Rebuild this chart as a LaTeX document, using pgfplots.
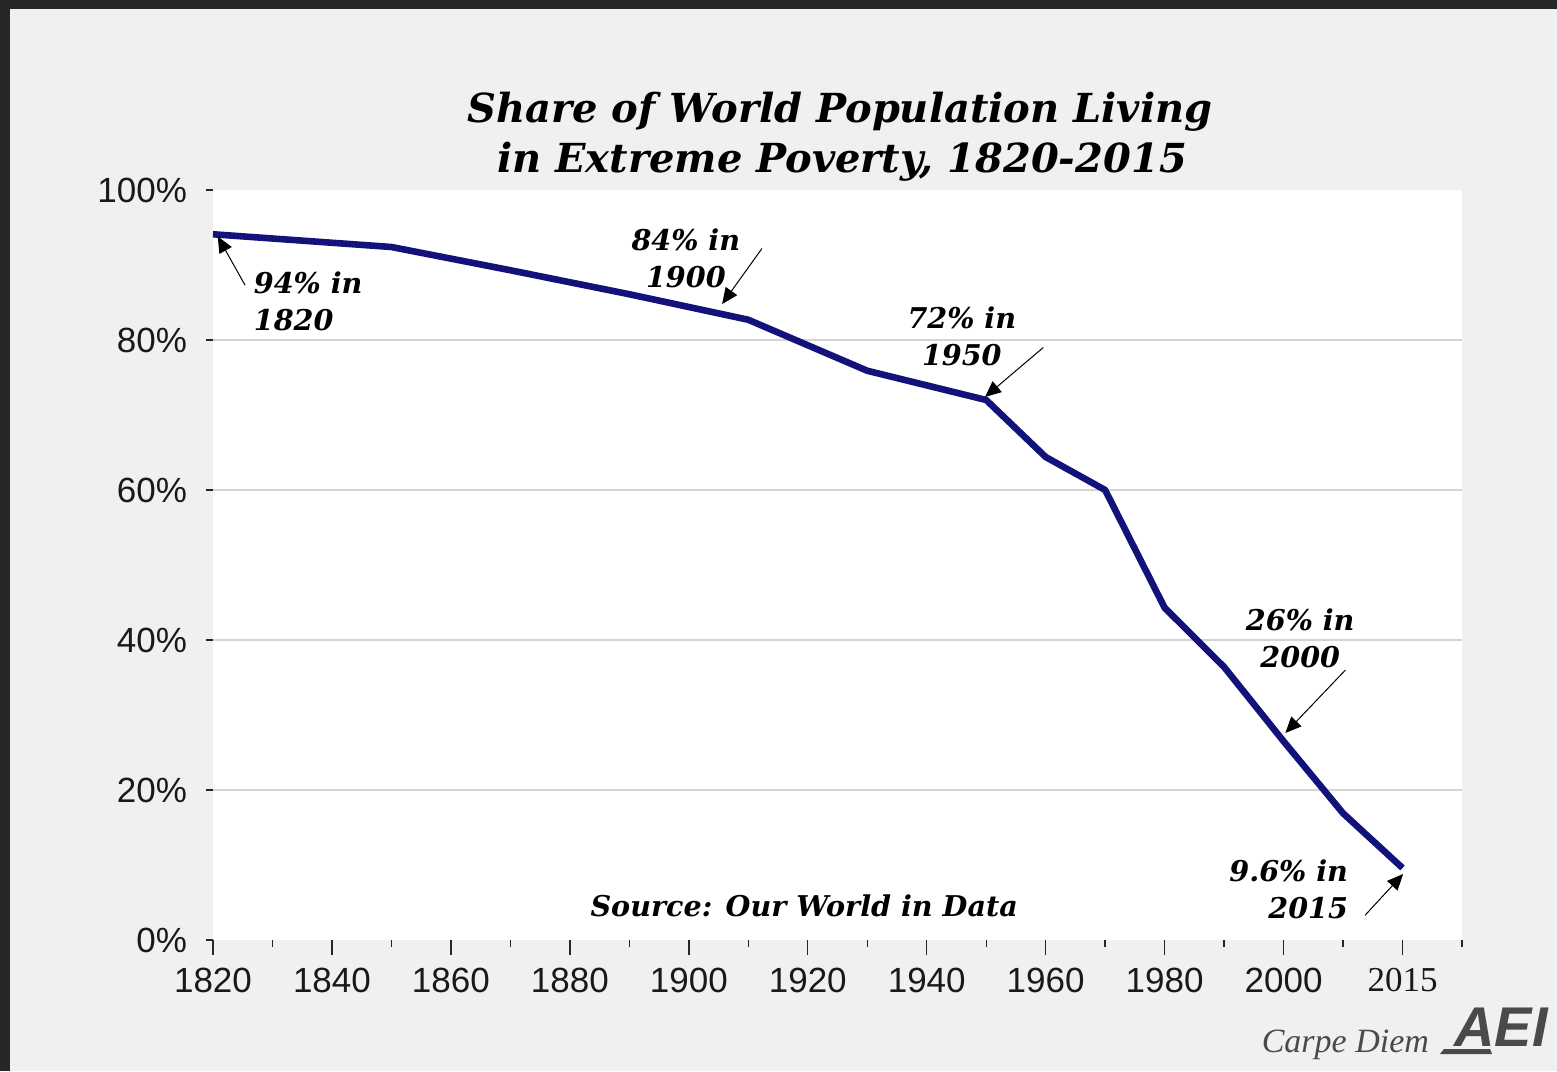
\documentclass[border=0pt]{standalone}
\usepackage{pgfplots}
\pgfplotsset{compat=1.18}
\usepackage{fontspec}
\setmainfont{Liberation Sans}
\newfontfamily\geo{DejaVu Serif}
\newfontfamily\tnr{Liberation Serif}
\usetikzlibrary{arrows.meta}
\definecolor{frame}{HTML}{262626}
\definecolor{bg}{HTML}{F0F0F0}
\definecolor{navy}{HTML}{12127A}
\definecolor{gridc}{HTML}{D4D4D4}
\definecolor{logo}{HTML}{4A4A4A}
\begin{document}
\begin{tikzpicture}
\useasboundingbox (0,0) rectangle (778.5pt,-535.5pt);
\fill[frame] (0,0) rectangle (778.5pt,-535.5pt);
\fill[bg] (5pt,-4.5pt) rectangle (778.5pt,-535.5pt);
% title
\node[anchor=base,font={\geo\bfseries\itshape\fontsize{20}{23}\selectfont}] at (420pt,-61pt) {Share of World Population Living};
\node[anchor=base,font={\geo\bfseries\itshape\fontsize{20}{23}\selectfont}] at (421pt,-86pt) {in Extreme Poverty, 1820-2015};
\begin{axis}[
  at={(106.5pt,-95pt)}, anchor=north west,
  scale only axis, width=624.5pt, height=375pt,
  xmin=1820, xmax=2030, ymin=0, ymax=100,
  axis background/.style={fill=white},
  axis line style={draw=none},
  xtick={1820,1840,1860,1880,1900,1920,1940,1960,1980,2000,2020},
  xticklabels={1820,1840,1860,1880,1900,1920,1940,1960,1980,2000,{\tnr 2015}},
  minor xtick={1830,1850,1870,1890,1910,1930,1950,1970,1990,2010,2030},
  ytick={0,20,40,60,80,100},
  minor ytick={0,20,40,60,80,100},
  yticklabels={0\%,20\%,40\%,60\%,80\%,100\%},
  extra y ticks={20,40,60,80},
  extra y tick labels={},
  extra y tick style={ymajorgrids=true, major y tick style={draw=none}},
  xtick pos=bottom, ytick pos=left,
  tick align=outside,
  major tick length=7.5pt, minor tick length=3.5pt,
  tick style={color=black!85, line width=0.7pt},
  major y tick style={draw=none},
  grid style={color=gridc, line width=0.7pt},
  tick label style={font=\fontsize{17.5}{20}\selectfont, text=black!90},
  xticklabel style={yshift=-3pt},
  yticklabel style={xshift=-2pt},
  /pgf/number format/assume math mode=true,
  clip=false,
]
\addplot[color=navy, line width=3.3pt, line join=round] coordinates {
  (1820,94.1) (1850,92.4) (1870,89.3) (1890,86.1) (1910,82.7)
  (1930,75.9) (1950,72.0) (1960,64.4) (1970,60.0) (1980,44.3)
  (1990,36.4) (2000,26.5) (2010,16.9) (2020,9.6)
};
\tikzset{ann/.style={font={\geo\bfseries\itshape\fontsize{14.3}{18.5}\selectfont}, align=center, inner sep=0pt},
         arr/.style={-{Triangle[length=8pt,width=7pt]}, line width=0.5pt, black}}
\node[ann, align=left, anchor=west] at (axis cs:1826.8,85.2) {94\% in\\1820};
\draw[arr] (axis cs:1825.4,87.3) -- (axis cs:1820.8,93.8);
\node[ann] at (axis cs:1899.5,90.9) {84\% in\\1900};
\draw[arr] (axis cs:1912.3,92.2) -- (axis cs:1905.6,84.8);
\node[ann] at (axis cs:1945.9,80.5) {72\% in\\1950};
\draw[arr] (axis cs:1959.6,79.0) -- (axis cs:1949.8,72.4);
\node[ann] at (axis cs:2002.8,40.2) {26\% in\\2000};
\draw[arr] (axis cs:2010.4,36.0) -- (axis cs:2000.3,27.6);
\node[ann, align=right, anchor=east] at (axis cs:2010.9,6.8) {9.6\% in\\2015};
\draw[arr] (axis cs:2013.7,3.3) -- (axis cs:2020.1,8.8);
\node[ann] at (axis cs:1919.4,4.5) {Source: Our World in Data};
\end{axis}
\node[anchor=base east, font={\tnr\itshape\fontsize{17}{20}\selectfont}, text=logo] at (718pt,-526pt) {Carpe Diem};
\node[anchor=base west, font={\bfseries\itshape\fontsize{28}{30}\selectfont}, text=logo, inner sep=0pt] at (727pt,-523pt) {AEI};
\fill[logo] (720pt,-527pt) -- (746pt,-527pt) -- (745pt,-524.5pt) -- (722pt,-524.5pt) -- cycle;
\end{tikzpicture}
\end{document}
